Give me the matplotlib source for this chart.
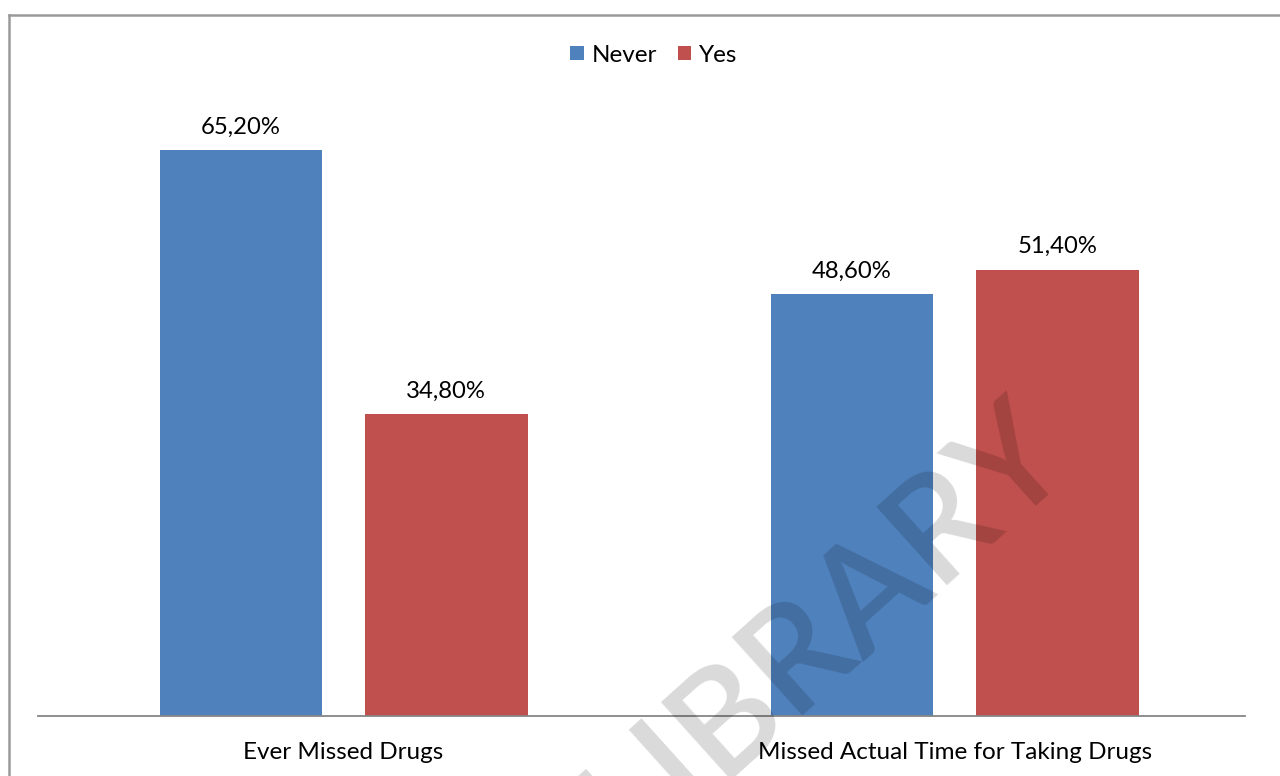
import matplotlib
matplotlib.use("Agg")
import matplotlib.pyplot as plt
import numpy as np
from matplotlib.lines import Line2D

plt.rcParams['font.family'] = ['Lato', 'DejaVu Sans']

categories = ["Ever Missed Drugs", "Missed Actual Time for Taking Drugs"]
series_names = ["Never", "Yes"]
never_values = [65.2, 48.6]
yes_values = [34.8, 51.4]
value_labels_never = ["65,20%", "48,60%"]
value_labels_yes = ["34,80%", "51,40%"]

BLUE = "#4F81BD"
RED = "#C0504D"

W, H = 1280, 776
fig = plt.figure(figsize=(W / 100, H / 100), dpi=100)
fig.patch.set_facecolor("white")

# plot area in pixel terms
left_px, right_px, base_px, top_px = 38, 1245, 716, 90
ax = fig.add_axes([left_px / W, 1 - base_px / H,
                   (right_px - left_px) / W, (base_px - top_px) / H])

x = np.arange(len(categories))
bar_w = 0.266
offset = 0.168
b1 = ax.bar(x - offset, never_values, bar_w, color=BLUE, label=series_names[0], zorder=2)
b2 = ax.bar(x + offset, yes_values, bar_w, color=RED, label=series_names[1], zorder=2)

for bars, labels in ((b1, value_labels_never), (b2, value_labels_yes)):
    for rect, lab in zip(bars, labels):
        ax.annotate(lab, (rect.get_x() + rect.get_width() / 2, rect.get_height()),
                    xytext=(0, 9), textcoords="offset points",
                    ha="center", va="bottom", fontsize=17.2, color="#000000")

ax.set_xlim(-0.5, 1.475)
ax.set_ylim(0, (base_px - top_px) / 8.681)
ax.set_xticks(x)
ax.set_xticklabels(categories, fontsize=17.5)
ax.tick_params(axis="x", length=0, pad=19)
ax.set_yticks([])
for s in ["top", "right", "left"]:
    ax.spines[s].set_visible(False)
ax.spines["bottom"].set_color("#868686")
ax.spines["bottom"].set_linewidth(1.3)
ax.patch.set_alpha(0)

leg = ax.legend(loc="center", bbox_to_anchor=(654 / W, 1 - 55 / H),
                bbox_transform=fig.transFigure, ncol=2, frameon=False,
                fontsize=17.5, handlelength=0.55, handleheight=0.55,
                handletextpad=0.33, columnspacing=0.85)

# outer chart frame
fx, fy = 8.5 / W, 1 - 14.5 / H
fig.add_artist(Line2D([fx, fx], [0, fy], transform=fig.transFigure,
                      color="#9a9a9a", linewidth=1.8))
fig.add_artist(Line2D([fx, 1], [fy, fy], transform=fig.transFigure,
                      color="#9a9a9a", linewidth=1.8))

# translucent watermark
fig.text(825 / W, 1 - 628 / H, "LIBRARY", fontsize=106, rotation=42,
         fontweight="semibold", ha="center", va="center", color="black",
         alpha=0.15, rotation_mode="anchor", zorder=10)

fig.savefig("out.png", dpi=100)
